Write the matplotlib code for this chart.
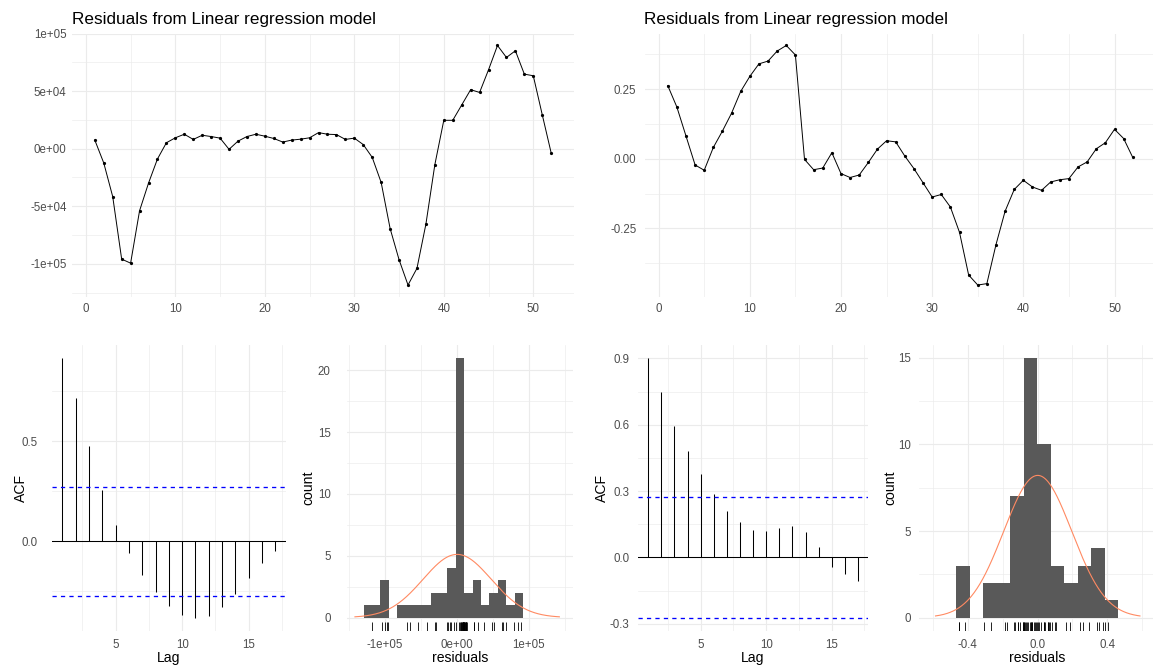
import numpy as np
import matplotlib
matplotlib.use("Agg")
import matplotlib.pyplot as plt
from matplotlib.ticker import FixedLocator

plt.rcParams['font.family'] = ['Liberation Sans', 'DejaVu Sans']

# ---------------- data ----------------
TITLE = "Residuals from Linear regression model"
t = np.arange(1, 53)

resid1 = [7.4e3, -1.25e4, -4.17e4, -9.6e4, -9.95e4, -5.4e4, -3.0e4, -9.0e3, 5.1e3, 9.4e3,
          1.25e4, 8.0e3, 1.16e4, 1.05e4, 9.1e3, -6e2, 6.5e3, 1.05e4, 1.25e4, 1.08e4,
          8.8e3, 5.7e3, 7.4e3, 8.2e3, 9.4e3, 1.39e4, 1.25e4, 1.22e4, 8.0e3, 9.1e3,
          3.5e3, -7.6e3, -2.94e4, -6.94e4, -9.65e4, -1.185e5, -1.04e5, -6.56e4, -1.39e4, 2.46e4,
          2.46e4, 3.79e4, 5.12e4, 4.88e4, 6.85e4, 8.96e4, 7.92e4, 8.5e4, 6.47e4, 6.33e4,
          2.95e4, -3.8e3]

resid2 = [0.263, 0.186, 0.082, -0.022, -0.041, 0.041, 0.100, 0.164, 0.242, 0.296,
          0.341, 0.351, 0.387, 0.407, 0.373, -0.002, -0.039, -0.033, 0.022, -0.053,
          -0.067, -0.058, -0.013, 0.035, 0.065, 0.061, 0.010, -0.035, -0.086, -0.137,
          -0.128, -0.173, -0.264, -0.417, -0.453, -0.448, -0.308, -0.188, -0.110, -0.077,
          -0.101, -0.113, -0.083, -0.075, -0.071, -0.029, -0.011, 0.036, 0.058, 0.106,
          0.073, 0.005]

lags = np.arange(1, 18)
acf1 = [0.914, 0.713, 0.475, 0.254, 0.080, -0.058, -0.166, -0.252, -0.324, -0.365,
        -0.380, -0.372, -0.327, -0.261, -0.181, -0.108, -0.050]
acf2 = [0.902, 0.749, 0.594, 0.481, 0.379, 0.289, 0.209, 0.158, 0.123, 0.119,
        0.131, 0.140, 0.114, 0.045, -0.045, -0.075, -0.105]

hist1_counts = [1, 1, 3, 0, 1, 1, 1, 1, 2, 2, 4, 21, 2, 3, 1, 2, 3, 1, 2]
hist1_start, hist1_bw = -1.296e5, 1.166e4
hist2_counts = [3, 0, 2, 2, 7, 15, 10, 3, 2, 3, 4, 1]
hist2_start, hist2_bw = -0.465, 0.0774

# tick labels
top1_yticks = [-1e5, -5e4, 0, 5e4, 1e5]
top1_ylabels = ["-1e+05", "-5e+04", "0e+00", "5e+04", "1e+05"]
top2_yticks = [-0.25, 0.0, 0.25]
top2_ylabels = ["-0.25", "0.00", "0.25"]
top_xticks = [0, 10, 20, 30, 40, 50]
acf_xticks = [5, 10, 15]
acf1_yticks = [0.0, 0.5]
acf1_ylabels = ["0.0", "0.5"]
acf2_yticks = [-0.3, 0.0, 0.3, 0.6, 0.9]
acf2_ylabels = ["-0.3", "0.0", "0.3", "0.6", "0.9"]
h1_xticks = [-1e5, 0, 1e5]
h1_xlabels = ["-1e+05", "0e+00", "1e+05"]
h1_yticks = [0, 5, 10, 15, 20]
h2_xticks = [-0.4, 0.0, 0.4]
h2_xlabels = ["-0.4", "0.0", "0.4"]
h2_yticks = [0, 5, 10, 15]

# ---------------- layout helpers ----------------
W, H = 1153, 671
fig = plt.figure(figsize=(W / 100, H / 100), dpi=100)
fig.patch.set_facecolor('white')

TICK_COLOR = '#4D4D4D'
GRID = '#EBEBEB'


def add_ax(l, t_, r, b):
    return fig.add_axes([l / W, 1 - b / H, (r - l) / W, (b - t_) / H])


def style(ax, xmaj, xlabels, xmin, ymaj, ylabels, ymin, xpad, ypad):
    for s in ax.spines.values():
        s.set_visible(False)
    ax.set_xticks(xmaj, labels=xlabels)
    ax.set_yticks(ymaj, labels=ylabels)
    ax.xaxis.set_minor_locator(FixedLocator(xmin))
    ax.yaxis.set_minor_locator(FixedLocator(ymin))
    ax.tick_params(which='both', length=0, labelsize=8.3, labelcolor=TICK_COLOR)
    ax.tick_params(axis='x', which='both', pad=xpad)
    ax.tick_params(axis='y', which='both', pad=ypad)
    ax.grid(which='major', color=GRID, lw=0.8)
    ax.grid(which='minor', color=GRID, lw=0.45)
    ax.set_axisbelow(True)


def axis_labels(ax, xl, yl, left, right, top, bottom, ylab_x, xlab_y):
    ax.set_xlabel(xl, fontsize=10.1, color='black')
    ax.set_ylabel(yl, fontsize=10.1, color='black')
    ax.yaxis.label.set_va('center')
    ax.xaxis.label.set_va('center')
    ax.yaxis.set_label_coords((ylab_x - left) / (right - left), 0.5)
    ax.xaxis.set_label_coords(0.5, (bottom - xlab_y) / (bottom - top))


# ---------------- top row ----------------
for (l, r, data, yt, yl, ymn, ypad) in [
        (72, 574, resid1, top1_yticks, top1_ylabels, [-1.25e5, -7.5e4, -2.5e4, 2.5e4, 7.5e4], 3.9),
        (644.5, 1156, resid2, top2_yticks, top2_ylabels, [-0.375, -0.125, 0.125, 0.375], 5.8)]:
    ax = add_ax(l, 33.5, r, 297)
    ax.plot(t, data, color='black', lw=0.7, marker='o', ms=1.3)
    style(ax, top_xticks, [str(v) for v in top_xticks], [5, 15, 25, 35, 45],
          yt, yl, ymn, 4.0, ypad)
    ax.set_title(TITLE, loc='left', fontsize=12.3, pad=7, color='black')

# ---------------- ACF panels ----------------
n = len(resid1)
ci = float(1.96 / np.sqrt(n))
for (l, r, acf, yt, yl, ymn, ypad, ylab_x) in [
        (51.7, 286, acf1, acf1_yticks, acf1_ylabels, [-0.25, 0.25, 0.75], 10.4, 20.7),
        (637.8, 868.4, acf2, acf2_yticks, acf2_ylabels, [-0.15, 0.15, 0.45, 0.75], 5.8, 601.7)]:
    ax = add_ax(l, 345, r, 630.5)
    ax.vlines(lags, 0, acf, colors='black', lw=0.75, zorder=2)
    ax.axhline(y=0, color='black', lw=0.75, zorder=2)
    ax.axhline(y=ci, color='#0000FF', lw=0.95, ls=(0, (3.2, 3.2)), zorder=3)
    ax.axhline(y=-ci, color='#0000FF', lw=0.95, ls=(0, (3.2, 3.2)), zorder=3)
    lo = min(min(acf), -ci)
    hi = max(max(acf), ci)
    pad = 0.05 * (hi - lo)
    ax.set_ylim(lo - pad, hi + pad)
    ax.set_xlim(lags[0] - 0.05 * (lags[-1] - lags[0]), lags[-1] + 0.05 * (lags[-1] - lags[0]))
    style(ax, acf_xticks, [str(v) for v in acf_xticks], [2.5, 7.5, 12.5, 17.5],
          yt, yl, ymn, 5.8, ypad)
    axis_labels(ax, 'Lag', 'ACF', l, r, 345, 630.5, ylab_x, 658)

# ---------------- histograms ----------------
for (l, r, data, counts, start, bw, xt, xl, xmn, yt, ymn, xlim, ypad, ylab_x) in [
        (346.7, 573.3, resid1, hist1_counts, hist1_start, hist1_bw, h1_xticks, h1_xlabels,
         [-1.5e5, -5e4, 5e4, 1.5e5], h1_yticks, [2.5, 7.5, 12.5, 17.5], (-1.53e5, 1.62e5), 11.5, 308.3),
        (919, 1156, resid2, hist2_counts, hist2_start, hist2_bw, h2_xticks, h2_xlabels,
         [-0.6, -0.2, 0.2, 0.6], h2_yticks, [2.5, 7.5, 12.5], (-0.68, 0.68), 5.8, 890)]:
    ax = add_ax(l, 345, r, 630.5)
    edges = start + bw * np.arange(len(counts))
    ax.bar(edges, counts, width=bw, align='edge', color='#595959', lw=0)
    d = np.asarray(data)
    m, s = d.mean(), d.std(ddof=1)
    xg = np.linspace(m - 3 * s, m + 3 * s, 512)
    yg = len(d) * bw * np.exp(-0.5 * ((xg - m) / s) ** 2) / (s * np.sqrt(2 * np.pi))
    ax.plot(xg, yg, color='#ff8a62', lw=0.8)
    ax.vlines(d, 0, 0.03, transform=ax.get_xaxis_transform(), colors='black', lw=0.6)
    mx = max(counts)
    ax.set_ylim(-0.05 * mx, 1.05 * mx)
    ax.set_xlim(*xlim)
    style(ax, xt, xl, xmn, yt, [str(v) for v in yt], ymn, 5.8, ypad)
    axis_labels(ax, 'residuals', 'count', l, r, 345, 630.5, ylab_x, 658)

fig.savefig('out.png', dpi=100, facecolor='white')
